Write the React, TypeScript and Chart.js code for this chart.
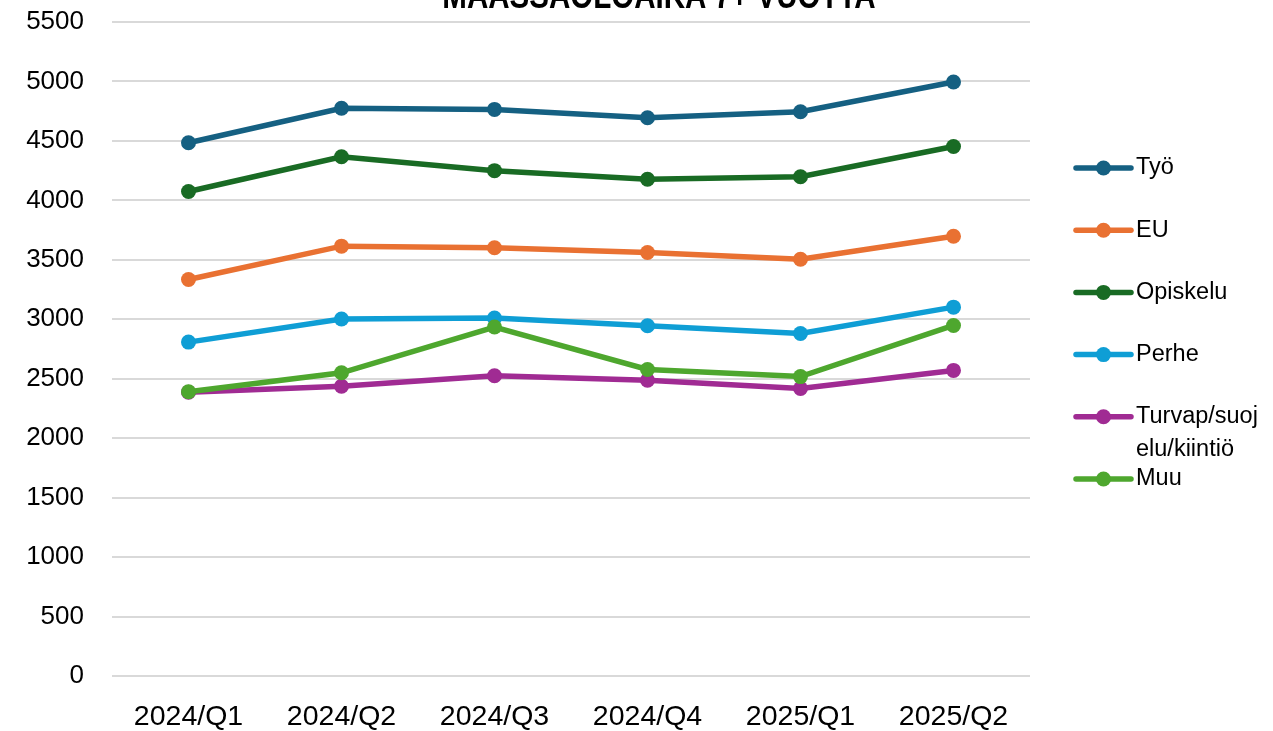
import React, { useEffect, useRef } from "react";
import { Chart, registerables } from "chart.js";

Chart.register(...registerables);

const TITLE = "MAASSAOLOAIKA 7+ VUOTTA";
const categories = ["2024/Q1", "2024/Q2", "2024/Q3", "2024/Q4", "2025/Q1", "2025/Q2"];
const seriesNames = ["Työ", "EU", "Opiskelu", "Perhe", "Turvap/suojelu/kiintiö", "Muu"];
const tyo = [4485, 4775, 4765, 4695, 4745, 4995];
const eu = [3335, 3615, 3602, 3562, 3505, 3698];
const opiskelu = [4075, 4367, 4250, 4178, 4198, 4453];
const perhe = [2808, 3002, 3010, 2945, 2880, 3102];
const turvap = [2387, 2437, 2525, 2487, 2418, 2570];
const muu = [2390, 2550, 2935, 2578, 2518, 2948];
const colors = ["#156082", "#E97132", "#196B24", "#0F9ED5", "#A02B93", "#4EA72E"];
const yTicksMax = 5500;
const yStep = 500;

const FONT = "'Liberation Sans', Arial, sans-serif";

const titlePlugin = {
  id: "cutTitle",
  afterDraw(chart: any) {
    const ctx = chart.ctx;
    ctx.save();
    ctx.fillStyle = "#000";
    ctx.font = `bold 36px ${FONT}`;
    ctx.textAlign = "center";
    ctx.textBaseline = "alphabetic";
    const cx = chart.chartArea.left + (chart.chartArea.right - chart.chartArea.left) / 2 + 88;
    ctx.translate(cx, 8);
    ctx.scale(0.82, 1);
    ctx.fillText(TITLE, 0, 0);
    ctx.restore();
  },
};

const legendPlugin = {
  id: "sideLegend",
  afterDraw(chart: any) {
    const ctx = chart.ctx;
    const area = chart.chartArea;
    const x0 = area.right + 46;
    const x1 = x0 + 55;
    const tx = x1 + 5;
    const maxW = chart.width - tx - 8;
    const startY = 168;
    const step = 62.2;
    const lineH = 33;
    ctx.save();
    ctx.font = `23.5px ${FONT}`;
    ctx.textBaseline = "middle";
    ctx.textAlign = "left";
    chart.data.datasets.forEach((ds: any, i: number) => {
      const y = startY + i * step;
      ctx.strokeStyle = ds.borderColor;
      ctx.lineWidth = 5.5;
      ctx.lineCap = "round";
      ctx.beginPath();
      ctx.moveTo(x0, y);
      ctx.lineTo(x1, y);
      ctx.stroke();
      ctx.fillStyle = ds.borderColor;
      ctx.beginPath();
      ctx.arc((x0 + x1) / 2, y, 7.5, 0, Math.PI * 2);
      ctx.fill();
      const lines: string[] = [];
      let cur = "";
      for (const ch of ds.label as string) {
        if (ctx.measureText(cur + ch).width > maxW && cur) {
          lines.push(cur);
          cur = ch;
        } else cur += ch;
      }
      if (cur) lines.push(cur);
      ctx.fillStyle = "#000";
      lines.forEach((ln, k) => ctx.fillText(ln, tx, y + k * lineH));
    });
    ctx.restore();
  },
};

export default function App() {
  const ref = useRef<HTMLCanvasElement | null>(null);
  useEffect(() => {
    document.body.style.margin = "0";
    const values = [tyo, eu, opiskelu, perhe, turvap, muu];
    const chart = new Chart(ref.current as HTMLCanvasElement, {
      type: "line",
      data: {
        labels: categories,
        datasets: values.map((v, i) => ({
          label: seriesNames[i],
          data: v,
          borderColor: colors[i],
          backgroundColor: colors[i],
          pointBackgroundColor: colors[i],
          pointBorderColor: colors[i],
          borderWidth: 5.5,
          pointRadius: 7.5,
          pointBorderWidth: 0,
          tension: 0,
          clip: false as any,
          order: values.length - i,
        })),
      },
      options: {
        responsive: false,
        animation: false,
        layout: { autoPadding: false, padding: { top: 22, right: 243, left: 0, bottom: 0 } },
        plugins: {
          legend: { display: false },
          title: { display: false },
          tooltip: { enabled: false },
        },
        scales: {
          x: {
            offset: true,
            grid: { display: false, drawTicks: false },
            border: { display: false },
            ticks: { color: "#000", font: { family: FONT, size: 28.5 }, padding: 24, maxRotation: 0 },
            afterFit: (s: any) => { s.height = 55; s.paddingLeft = 0; s.paddingRight = 0; },
          },
          y: {
            min: 0,
            max: yTicksMax,
            ticks: {
              stepSize: yStep,
              color: "#000",
              font: { family: FONT, size: 26 },
              padding: 28,
              callback: (v: any) => String(v),
            },
            grid: { color: "#d9d9d9", lineWidth: 2, drawTicks: false },
            border: { display: false },
            afterFit: (s: any) => { s.width = 112; s.paddingTop = 0; s.paddingBottom = 0; },
          },
        },
      },
      plugins: [titlePlugin, legendPlugin],
    });
    return () => chart.destroy();
  }, []);
  return (
    <div style={{ width: 1273, height: 731, background: "#fff" }}>
      <canvas ref={ref} width={1273} height={731} style={{ display: "block" }} />
    </div>
  );
}
